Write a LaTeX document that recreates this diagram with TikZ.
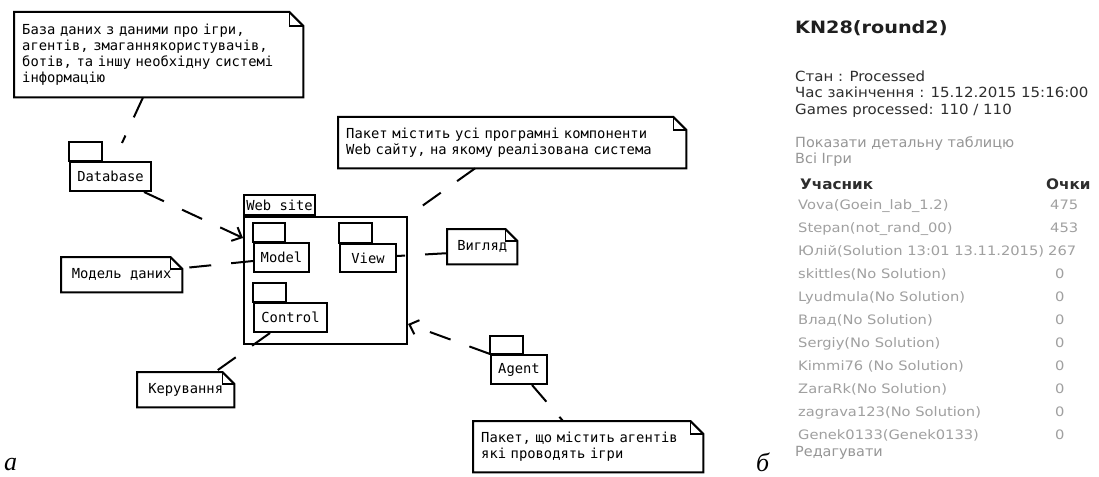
\documentclass[tikz,border=0pt]{standalone}
\usepackage{fontspec}
\usepackage{graphicx}
\setmainfont{Liberation Serif}
\newfontfamily\umlfont{DejaVu Sans Mono}
\newfontfamily\webfont{DejaVu Sans}
\usetikzlibrary{arrows.meta}
\definecolor{rowgrey}{RGB}{160,160,160}
\definecolor{headgrey}{RGB}{45,45,45}
\definecolor{linkgrey}{RGB}{150,150,150}
\newcommand\wx[2]{\scalebox{#1}[1]{#2}}
\newcommand\drawnote[2]{%
  \draw[umlline] (#1.north west) -- ([xshift=-#2]#1.north east) -- ([yshift=-#2]#1.north east) -- (#1.south east) -- (#1.south west) -- cycle;
  \draw[line width=1.2pt] ([xshift=-#2]#1.north east) |- ([yshift=-#2]#1.north east);
}
\newcommand\drawtab[3]{%
  \draw[umlline] (#1.north west) rectangle ([xshift=#2, yshift=#3]#1.north west);
}
\begin{document}
\begin{tikzpicture}[x=1pt,y=-1pt,
  umlline/.style={line width=2pt, line join=miter},
  umlfnt/.style={font=\umlfont\fontsize{13.8}{16}\selectfont},
  pkg/.style={draw, umlline, umlfnt, anchor=north west, inner sep=0pt},
  notebox/.style={umlfnt, anchor=north west, inner sep=0pt},
  dep/.style={line width=2pt, dash pattern=on 22pt off 20pt},
  deparrow/.style={dep, -{Straight Barb[length=8pt,width=15pt,line width=2pt]}},
  hdr/.style={font=\webfont\fontsize{14}{16}\selectfont, text=headgrey, anchor=base west, inner sep=0pt},
  colh/.style={font=\webfont\bfseries\fontsize{14.5}{16}\selectfont, text=headgrey, anchor=base west, inner sep=0pt},
  lnk/.style={font=\webfont\fontsize{14}{16}\selectfont, text=linkgrey, anchor=base west, inner sep=0pt},
  row/.style={font=\webfont\fontsize{13}{15}\selectfont, text=rowgrey, anchor=base west, inner sep=0pt},
  lbl/.style={font=\itshape\fontsize{26}{26}\selectfont, anchor=base west, inner sep=0pt}
]
\useasboundingbox[fill=white] (0,0) rectangle (1099,476);

% packages
\node[pkg, minimum width=81pt, minimum height=29pt] (db) at (69,161) {Database};
\drawtab{db}{33pt}{19pt}
\node[pkg, minimum width=163pt, minimum height=127pt] (web) at (243,216) {};
\node[pkg, minimum width=71pt, minimum height=20pt, anchor=south west] (webtab) at (web.north west) {Web site};
\node[pkg, minimum width=55pt, minimum height=29pt] (model) at (253,242) {Model};
\drawtab{model}{32pt}{19pt}
\node[pkg, minimum width=56pt, minimum height=28pt] (view) at (339,243) {View};
\drawtab{view}{33pt}{20pt}
\node[pkg, minimum width=73pt, minimum height=29pt] (ctrl) at (253,302) {Control};
\drawtab{ctrl}{33pt}{19pt}
\node[pkg, minimum width=56pt, minimum height=29pt] (agent) at (490,354) {Agent};
\drawtab{agent}{33pt}{18pt}

% notes
\node[notebox, text width=273pt, minimum height=85pt, inner xsep=8pt, align=left] (ndb) at (14,12)
  {База даних з даними про ігри,\\агентів, змаганнякористувачів,\\ботів, та іншу необхідну системі\\інформацію};
\drawnote{ndb}{14pt}
\node[notebox, text width=332pt, minimum height=51pt, inner xsep=8pt, align=left] (nweb) at (338,117)
  {Пакет містить усі програмні компоненти\\Web сайту, на якому реалізована система};
\drawnote{nweb}{13pt}
\node[notebox, minimum width=121pt, minimum height=35pt] (nmodel) at (61,257) {Модель даних};
\drawnote{nmodel}{12pt}
\node[notebox, minimum width=70pt, minimum height=35pt] (nview) at (447,229) {Вигляд};
\drawnote{nview}{12pt}
\node[notebox, minimum width=97pt, minimum height=35pt] (nctrl) at (137,372) {Керування};
\drawnote{nctrl}{12pt}
\node[notebox, text width=214pt, minimum height=51pt, inner xsep=8pt, align=left] (nagent) at (473,421)
  {Пакет, що містить агентів\\які проводять ігри};
\drawnote{nagent}{13pt}

% connectors
\coordinate (dbend) at (122,143);
\draw[dep] ([xshift=129pt]ndb.south west) -- (dbend);
\draw[deparrow] ([xshift=-8pt]db.south east) -- ([yshift=-22pt]web.north west);
\draw[dep] ([yshift=-3.5pt]model.west) -- ([yshift=6.5pt]nmodel.east);
\draw[dep] ([yshift=-6.5pt]nview.west) -- ([yshift=2pt]view.east);
\draw[dep] ([xshift=137pt]nweb.south west) -- (web.north east);
\draw[dep] ([xshift=17pt]ctrl.south west) -- ([xshift=78pt]nctrl.north west);
\draw[deparrow] (agent.north west) -- ([yshift=21pt]web.south east);
\draw[dep] ([xshift=42pt]agent.south west) -- ([xshift=90pt]nagent.north west);

% labels
\node[lbl] (la) at (4,470) {а};
\node[lbl] (lb) at (756,471) {б};

% right panel
\node[font=\webfont\bfseries\fontsize{17}{20}\selectfont, text=black!88, anchor=base west, inner sep=0pt] (title) at (795,34) {\wx{1.13}{KN28(round2)}};
\node[hdr] (st) at (795,82) {\wx{1.07}{Стан : Processed}};
\node[hdr] (tm) at (795,98) {\wx{1.07}{Час закінчення : 15.12.2015 15:16:00}};
\node[hdr] (gp) at (795,114) {\wx{1.07}{Games processed: 110 / 110}};
\node[lnk] (show) at (795,147) {\wx{1.03}{Показати детальну таблицю}};
\node[lnk] (all) at (795,163) {\wx{1.03}{Всі Ігри}};
\node[colh] (col1) at (800,189) {\wx{1.05}{Учасник}};
\node[colh] (col2) at (1046,189) {\wx{1.05}{Очки}};
\foreach \nm/\sc/\sx/\yy [count=\i] in {
  {Vova(Goein\_lab\_1.2)}/475/1050/209,
  {Stepan(not\_rand\_00)}/453/1050/232,
  {Юлій(Solution 13:01 13.11.2015)}/267/1048/255,
  {skittles(No Solution)}/0/1055/278,
  {Lyudmula(No Solution)}/0/1055/301,
  {Влад(No Solution)}/0/1055/324,
  {Sergiy(No Solution)}/0/1055/347,
  {Kimmi76 (No Solution)}/0/1055/370,
  {ZaraRk(No Solution)}/0/1055/393,
  {zagrava123(No Solution)}/0/1055/416,
  {Genek0133(Genek0133)}/0/1055/439}{
  \node[row] (r\i) at (798,\yy) {\wx{1.13}{\nm}};
  \node[row] (s\i) at (\sx,\yy) {\wx{1.13}{\sc}};
}
\node[lnk] (edit) at (795,456) {\wx{1.03}{Редагувати}};
\end{tikzpicture}
\end{document}
